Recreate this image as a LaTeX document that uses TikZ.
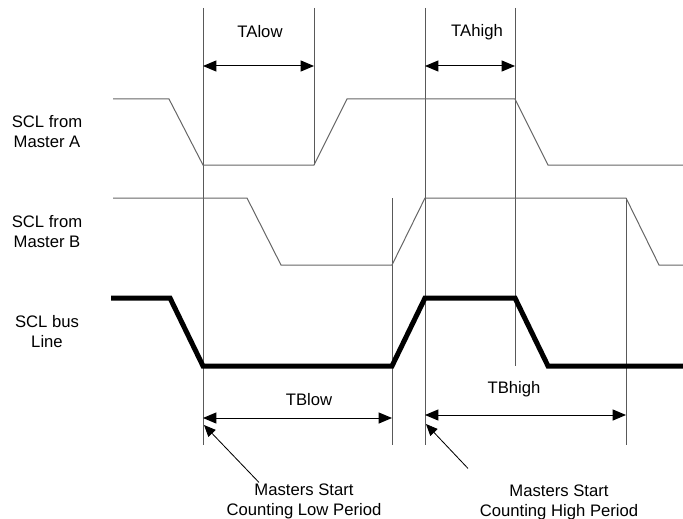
\documentclass[tikz,border=0pt]{standalone}
\usepackage{fontspec}
\setmainfont{Liberation Sans}
\usetikzlibrary{arrows.meta,calc}

\begin{document}
\begin{tikzpicture}[
    x=0.6pt, y=-0.6pt,
    font=\fontsize{10}{12}\selectfont,
    >={Triangle[length=8pt,width=6.6pt]},
    sig/.style={draw=black!60, line width=0.6pt},
    bus/.style={draw=black, line width=3pt},
    marker/.style={draw=black!65, line width=0.45pt},
    dim/.style={<->, line width=0.6pt},
    annot/.style={-{Triangle[length=7pt,width=6pt]}, line width=0.5pt},
    lbl/.style={align=center, inner sep=1pt}
]
\useasboundingbox (0,0) rectangle (683,518);

% Signal names (left column)
\node[lbl] (laba) at (47,132) {SCL from\\ Master A};
\node[lbl] (labb) at (47,232) {SCL from\\ Master B};
\node[lbl] (labbus) at (47,332) {SCL bus\\ Line};

% Timing marker lines
\coordinate (mA) at (203,8);
\coordinate (mB) at (314,8);
\coordinate (mC) at (392,198);
\coordinate (mD) at (425,8);
\coordinate (mE) at (515,8);
\coordinate (mF) at (626,198);
\draw[marker] (mA) -- (203,445);
\draw[marker] (mB) -- (314,165);
\draw[marker] (mC) -- (392,445);
\draw[marker] (mD) -- (425,445);
\draw[marker] (mE) -- (515,366);
\draw[marker] (mF) -- (626,445);

% Waveforms
\draw[sig] (113,99) -- (169,99) -- (203,165) -- (314,165) -- (347,99) -- (515,99) -- (548,165) -- (683,165);
\draw[sig] (113,198) -- (247,198) -- (281,265) -- (392,265) -- (425,198) -- (626,198) -- (659,265) -- (683,265);
\draw[bus] (111,298) -- (170,298) -- (203,366) -- (392,366) -- (425,298) -- (515,298) -- (548,366) -- (683,366);

% Period labels and dimension arrows
\node (talow) at (260,32) {TAlow};
\node (tahigh) at (477,32) {TAhigh};
\node (tblow) at (309,400) {TBlow};
\node (tbhigh) at (514,389) {TBhigh};

\draw[dim] (mA |- 0,66) -- (mB |- 0,66);
\draw[dim] (mD |- 0,66) -- (mE |- 0,66);
\draw[dim] (mA |- 0,418) -- (mC |- 0,418);
\draw[dim] (mD |- 0,415) -- (mF |- 0,415);

% Notes on start of counting
\node[lbl] (cntlow) at (304,501) {Masters Start\\ Counting Low Period};
\node[lbl] (cnthigh) at (559,502) {Masters Start\\ Counting High Period};

\coordinate (lowstart) at (204,425);
\coordinate (highstart) at (426,424);
\draw[annot] ($(cntlow.north)+(-45,1)$) -- (lowstart);
\draw[annot] ($(cnthigh.north)+(-91,-14)$) -- (highstart);

\end{tikzpicture}
\end{document}
